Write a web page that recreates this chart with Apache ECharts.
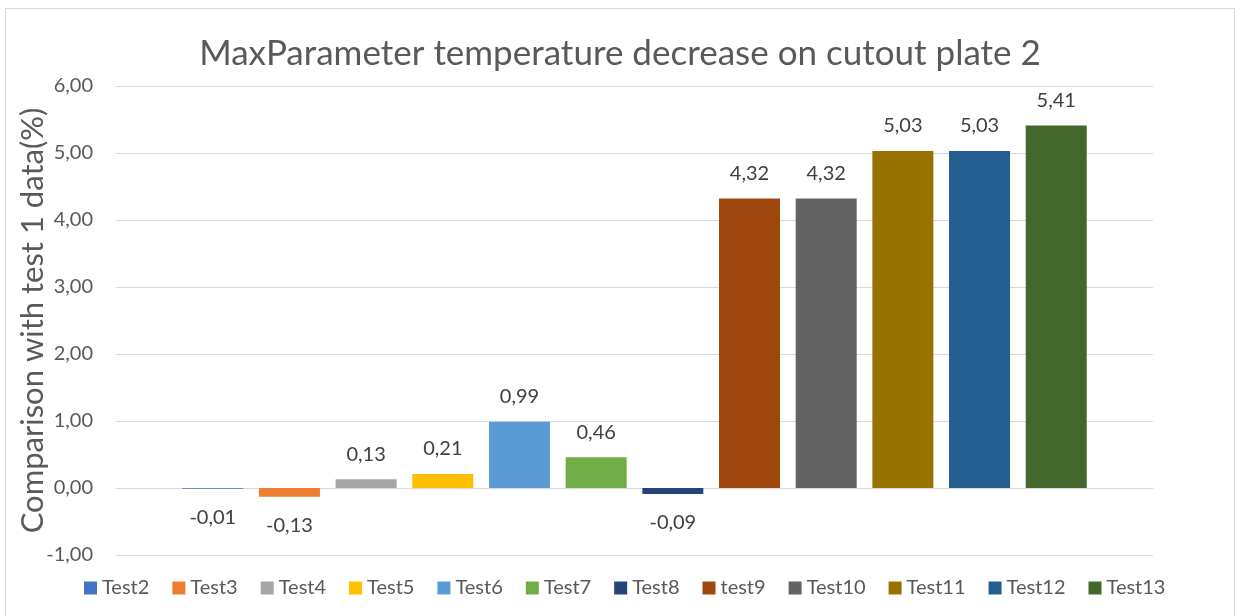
<!DOCTYPE html>
<html>
<head>
<meta charset="utf-8">
<title>MaxParameter temperature decrease on cutout plate 2</title>
<script src="https://cdn.jsdelivr.net/npm/echarts@6/dist/echarts.min.js"></script>
<style>
  html, body { margin: 0; padding: 0; background: #ffffff; }
  #chart { width: 1240px; height: 616px; }
</style>
</head>
<body>
<div id="chart"></div>
<script>
// Series names, one bar per test run
const seriesNames = ['Test2', 'Test3', 'Test4', 'Test5', 'Test6', 'Test7', 'Test8', 'test9', 'Test10', 'Test11', 'Test12', 'Test13'];
// Percentage change relative to test 1
const seriesValues = [-0.01, -0.13, 0.13, 0.21, 0.99, 0.46, -0.09, 4.32, 4.32, 5.03, 5.03, 5.41];
// Bar fill colours, in series order
const seriesColors = ['#4472C4', '#ED7D31', '#A5A5A5', '#FFC000', '#5B9BD5', '#70AD47', '#264478', '#9E480E', '#636363', '#997300', '#255E91', '#43682B'];
// Single category on the horizontal axis
const categories = ['MaxParameter'];

const FONT = 'Lato, "Open Sans", sans-serif';
const fmt = v => v.toFixed(2).replace('.', ',');

const series = seriesNames.map((name, i) => ({
  name: name,
  type: 'bar',
  barWidth: 61,
  barGap: '25.7%',
  itemStyle: { color: seriesColors[i] },
  label: {
    show: true,
    position: 'outside',
    distance: seriesValues[i] < 0 ? 19 : 15,
    formatter: p => fmt(p.value),
    color: '#404040',
    fontSize: 20,
    fontFamily: FONT
  },
  data: [seriesValues[i]]
}));

const chart = echarts.init(document.getElementById('chart'), null, { renderer: 'canvas' });
chart.setOption({
  animation: false,
  backgroundColor: '#ffffff',
  title: {
    text: 'MaxParameter temperature decrease on cutout plate 2',
    left: 'center',
    top: 31,
    textStyle: { color: '#595959', fontSize: 35, fontWeight: 'normal', fontFamily: FONT }
  },
  legend: {
    data: seriesNames,
    left: 79,
    top: 573,
    itemWidth: 13,
    itemHeight: 13,
    itemGap: 23,
    icon: 'rect',
    textStyle: { color: '#595959', fontSize: 20, fontFamily: FONT }
  },
  grid: { left: 116, right: 87, top: 86, bottom: 61, containLabel: false },
  xAxis: {
    type: 'category',
    data: categories,
    axisLine: { show: true, onZero: true, lineStyle: { color: '#d9d9d9', width: 1 } },
    axisTick: { show: false },
    axisLabel: { show: false },
    splitLine: { show: false }
  },
  yAxis: {
    type: 'value',
    min: -1,
    max: 6,
    interval: 1,
    name: 'Comparison with test 1 data(%)',
    nameLocation: 'middle',
    nameGap: 68,
    nameMoveOverlap: false,
    nameTextStyle: { color: '#595959', fontSize: 31, fontFamily: FONT },
    axisLine: { show: false },
    axisTick: { show: false },
    axisLabel: {
      color: '#595959',
      fontSize: 20,
      fontFamily: FONT,
      margin: 23,
      formatter: v => fmt(v)
    },
    splitLine: { lineStyle: { color: '#d9d9d9', width: 1 } }
  },
  graphic: [{
    type: 'rect',
    silent: true,
    shape: { x: 5.5, y: 8.5, width: 1229, height: 640 },
    style: { fill: 'none', stroke: '#d9d9d9', lineWidth: 1 }
  }],
  series: series
});
</script>
</body>
</html>
